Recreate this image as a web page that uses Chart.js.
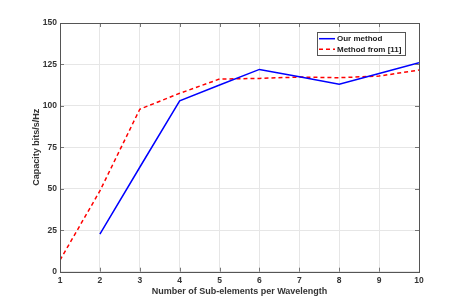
<!DOCTYPE html>
<html>
<head>
<meta charset="utf-8">
<script src="https://cdn.jsdelivr.net/npm/chart.js@4"></script>
<style>
  html, body { margin: 0; padding: 0; background: #fff; }
  #wrap { width: 463px; height: 305px; }
</style>
</head>
<body>
<div id="wrap"><canvas id="cap" width="463" height="305"></canvas></div>
<script>
// values
const subElements = [1, 2, 3, 4, 5, 6, 7, 8, 9, 10];
const ourMethod = [null, 22.7, 63, 103, 112.6, 122, 117.6, 113, 119.6, 126];
const method11 = [7, 48.7, 98, 107.6, 116.2, 116.6, 117.4, 117, 118, 121.6];
const yTicks = [0, 25, 50, 75, 100, 125, 150];

const FONT = "'Liberation Sans', Arial, sans-serif";
const AXIS = '#555';

// box + inward tick marks like matlab axes
const boxPlugin = {
  id: 'box',
  afterDraw(chart) {
    const { ctx, chartArea: a, scales } = chart;
    ctx.save();
    ctx.strokeStyle = '#777';
    ctx.lineWidth = 1;
    ctx.beginPath();
    scales.x.ticks.forEach(t => {
      const px = Math.round(scales.x.getPixelForValue(t.value)) + 0.5;
      ctx.moveTo(px, a.bottom); ctx.lineTo(px, a.bottom - 4);
      ctx.moveTo(px, a.top); ctx.lineTo(px, a.top + 4);
    });
    scales.y.ticks.forEach(t => {
      const py = Math.round(scales.y.getPixelForValue(t.value)) + 0.5;
      ctx.moveTo(a.left, py); ctx.lineTo(a.left + 4, py);
      ctx.moveTo(a.right, py); ctx.lineTo(a.right - 4, py);
    });
    ctx.stroke();
    ctx.strokeStyle = AXIS;
    ctx.strokeRect(Math.round(a.left) + 0.5, Math.round(a.top) + 0.5,
      Math.round(a.right - a.left), Math.round(a.bottom - a.top));

    // legend in the upper right corner
    const bx = 317.5, by = 32.5, bw = 88, bh = 23;
    ctx.fillStyle = '#fff';
    ctx.fillRect(bx, by, bw, bh);
    ctx.strokeStyle = '#555';
    ctx.strokeRect(bx, by, bw, bh);
    ctx.font = 'bold 8px ' + FONT;
    ctx.textBaseline = 'middle';
    chart.data.datasets.forEach((ds, i) => {
      const y = 38.7 + i * 10.6;
      ctx.strokeStyle = ds.borderColor;
      ctx.lineWidth = 1.5;
      ctx.setLineDash(ds.borderDash || []);
      ctx.beginPath();
      ctx.moveTo(319, y); ctx.lineTo(335, y);
      ctx.stroke();
      ctx.setLineDash([]);
      ctx.fillStyle = '#222';
      ctx.fillText(ds.label, 337, y + 0.5);
    });
    ctx.restore();
  }
};

new Chart(document.getElementById('cap'), {
  type: 'line',
  data: {
    labels: subElements,
    datasets: [
      {
        label: 'Our method',
        data: ourMethod,
        borderColor: '#0000ff',
        borderWidth: 1.5,
        pointRadius: 0,
        tension: 0,
        spanGaps: false
      },
      {
        label: 'Method from [11]',
        data: method11,
        borderColor: '#ff0000',
        borderWidth: 1.5,
        borderDash: [4, 3],
        pointRadius: 0,
        tension: 0
      }
    ]
  },
  options: {
    responsive: false,
    animation: false,
    layout: { padding: { left: 0, top: 23, right: 44, bottom: 0 } },
    plugins: { legend: { display: false }, tooltip: { enabled: false } },
    scales: {
      x: {
        type: 'linear',
        min: 1, max: 10,
        afterBuildTicks: s => { s.ticks = subElements.map(v => ({ value: v })); },
        afterFit: s => { s.height = 33.3; },
        grid: { color: '#e6e6e6', drawTicks: false },
        border: { display: false },
        ticks: { padding: 4, color: '#333', font: { family: FONT, size: 8.5, weight: 'bold' } },
        title: {
          display: true,
          text: 'Number of Sub-elements per Wavelength',
          color: '#333',
          font: { family: FONT, size: 9, weight: 'bold' },
          padding: { top: 0, bottom: 8 }
        }
      },
      y: {
        min: 0, max: 150,
        afterBuildTicks: s => { s.ticks = yTicks.map(v => ({ value: v })); },
        afterFit: s => { s.width = 60; },
        grid: { color: '#e6e6e6', drawTicks: false },
        border: { display: false },
        ticks: { padding: 3, color: '#333', font: { family: FONT, size: 8.5, weight: 'bold' } },
        title: {
          display: true,
          text: 'Capacity bits/s/Hz',
          color: '#333',
          font: { family: FONT, size: 9, weight: 'bold' },
          padding: { top: 31, bottom: 0 }
        }
      }
    }
  },
  plugins: [boxPlugin]
});
</script>
</body>
</html>
